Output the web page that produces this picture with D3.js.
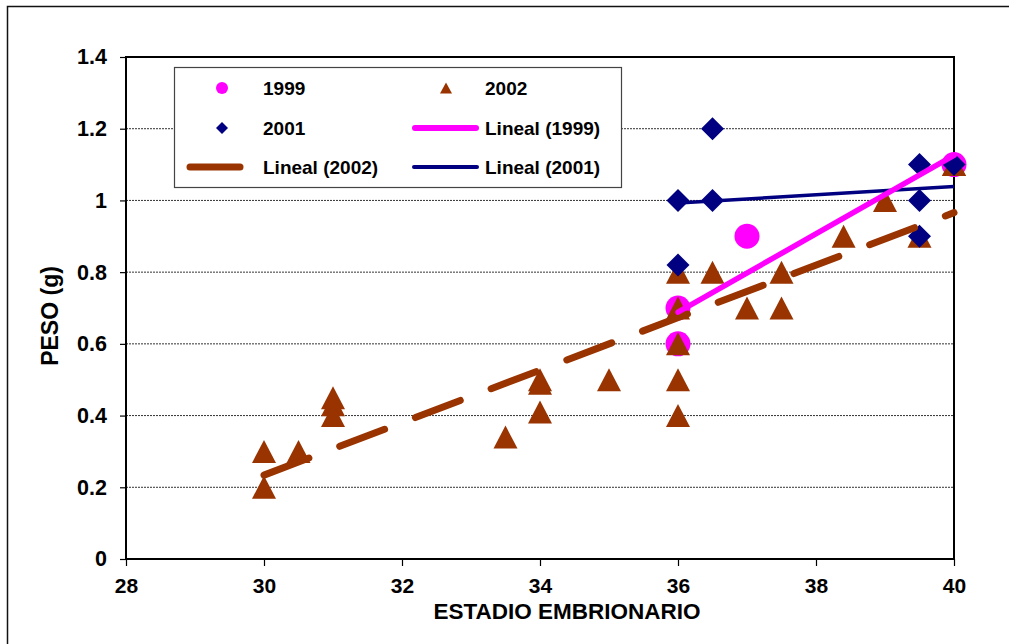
<!DOCTYPE html>
<html>
<head>
<meta charset="utf-8">
<script src="https://cdn.jsdelivr.net/npm/d3@7"></script>
<style>
  html, body { margin: 0; padding: 0; background: #fff; }
  svg { display: block; }
  text { font-family: "Liberation Sans", Arial, sans-serif; font-weight: bold; fill: #000; }
</style>
</head>
<body>
<script>
// Peso (g) por estadio embrionario, tres temporadas
const data1999 = [
  [36, 0.70], [36, 0.60], [37, 0.90], [40, 1.10]
];
const data2001 = [
  [36, 1.00], [36, 0.82], [36.5, 1.00], [36.5, 1.20],
  [39.5, 1.10], [39.5, 1.00], [39.5, 0.90], [40, 1.10]
];
const data2002 = [
  [30, 0.30], [30, 0.20], [30.5, 0.30],
  [31, 0.45], [31, 0.43], [31, 0.40],
  [33.5, 0.34], [34, 0.50], [34, 0.49], [34, 0.41], [35, 0.50],
  [36, 0.80], [36, 0.70], [36, 0.60], [36, 0.50], [36, 0.40],
  [36.5, 0.80], [37, 0.70], [37.5, 0.80], [37.5, 0.70],
  [38.4, 0.90], [39, 1.00], [39.5, 0.90], [40, 1.10], [40, 1.10]
];
const xTicks = [28, 30, 32, 34, 36, 38, 40];
const yTicks = [0, 0.2, 0.4, 0.6, 0.8, 1.0, 1.2, 1.4];
const yTickLabels = ["0", "0.2", "0.4", "0.6", "0.8", "1", "1.2", "1.4"];
const legendLabels = ["1999", "2002", "2001", "Lineal (1999)", "Lineal (2002)", "Lineal (2001)"];

const W = 1009, H = 644;
const M = { left: 126, right: 954, top: 57, bottom: 559 };
const C1999 = "#ff00ff", C2001 = "#000080", C2002 = "#993300";

const svg = d3.select("body").append("svg").attr("width", W).attr("height", H);

// outer chart frame (runs off the right and bottom edges)
svg.append("rect").attr("x", 7.5).attr("y", 6.5).attr("width", 1020).attr("height", 660)
  .attr("fill", "#fff").attr("stroke", "#111").attr("stroke-width", 1.5);

const x = d3.scaleLinear().domain([28, 40]).range([M.left, M.right]);
const y = d3.scaleLinear().domain([0, 1.4]).range([M.bottom, M.top]);

// dotted gridlines
svg.append("g").selectAll("line").data(yTicks.filter(v => v > 0 && v < 1.4)).join("line")
  .attr("x1", M.left).attr("x2", M.right)
  .attr("y1", d => y(d)).attr("y2", d => y(d))
  .attr("stroke", "#333").attr("stroke-width", 1).attr("stroke-dasharray", "2,1");

// axes
const yAxis = d3.axisLeft(y).tickValues(yTicks).tickSize(6).tickPadding(13)
  .tickFormat((d, i) => yTickLabels[i]);
const gy = svg.append("g").attr("transform", `translate(${M.left},0)`).call(yAxis);
gy.select(".domain").remove();
gy.selectAll(".tick line").attr("stroke", "#000").attr("stroke-width", 1.2);
gy.selectAll(".tick text").attr("font-size", 21.5).attr("font-family", null);

const xAxis = d3.axisBottom(x).tickValues(xTicks).tickSize(7).tickPadding(12);
const gx = svg.append("g").attr("transform", `translate(0,${M.bottom})`).call(xAxis);
gx.select(".domain").remove();
gx.selectAll(".tick line").attr("stroke", "#000").attr("stroke-width", 1.2);
gx.selectAll(".tick text").attr("font-size", 21).attr("font-family", null);

// plot border
svg.append("rect").attr("x", M.left).attr("y", M.top)
  .attr("width", M.right - M.left).attr("height", M.bottom - M.top)
  .attr("fill", "none").attr("stroke", "#000").attr("stroke-width", 2);

// axis titles
svg.append("text").attr("x", 567).attr("y", 618.5).attr("text-anchor", "middle")
  .attr("font-size", 22.5).text("ESTADIO EMBRIONARIO");
svg.append("text").attr("transform", "translate(58,316) rotate(-90)")
  .attr("text-anchor", "middle").attr("font-size", 23).text("PESO (g)");

// marker shapes
const triPath = (w, h) => `M0,${-h / 2}L${w / 2},${h / 2}L${-w / 2},${h / 2}Z`;
const diaPath = (s) => `M0,${-s / 2}L${s / 2},0L0,${s / 2}L${-s / 2},0Z`;

const marks = svg.append("g");
marks.selectAll("circle.p1999").data(data1999).join("circle")
  .attr("cx", d => x(d[0])).attr("cy", d => y(d[1])).attr("r", 12.5).attr("fill", C1999);
marks.selectAll("path.p2002").data(data2002).join("path")
  .attr("transform", d => `translate(${x(d[0])},${y(d[1])})`)
  .attr("d", triPath(24, 23)).attr("fill", C2002);
marks.selectAll("path.p2001").data(data2001).join("path")
  .attr("transform", d => `translate(${x(d[0])},${y(d[1])})`)
  .attr("d", diaPath(23)).attr("fill", C2001);

// least-squares linear trend over the series' x range
function trend(pts) {
  const mx = d3.mean(pts, d => d[0]), my = d3.mean(pts, d => d[1]);
  const sxy = d3.sum(pts, d => (d[0] - mx) * (d[1] - my));
  const sxx = d3.sum(pts, d => (d[0] - mx) ** 2);
  const b = sxy / sxx, a = my - b * mx;
  const [x0, x1] = d3.extent(pts, d => d[0]);
  return [[x0, a + b * x0], [x1, a + b * x1]];
}
const line = d3.line().x(d => x(d[0])).y(d => y(d[1]));

svg.append("path").attr("d", line(trend(data2002))).attr("fill", "none")
  .attr("stroke", C2002).attr("stroke-width", 7).attr("stroke-linecap", "round")
  .attr("stroke-dasharray", "48,33");
svg.append("path").attr("d", line(trend(data2001))).attr("fill", "none")
  .attr("stroke", C2001).attr("stroke-width", 3.5);
svg.append("path").attr("d", line(trend(data1999))).attr("fill", "none")
  .attr("stroke", C1999).attr("stroke-width", 5.5).attr("stroke-linecap", "round");

// legend
const lg = svg.append("g");
lg.append("rect").attr("x", 174.5).attr("y", 67.5).attr("width", 447).attr("height", 120)
  .attr("fill", "#fff").attr("stroke", "#444").attr("stroke-width", 1.2);
const rows = [88, 128, 167];
const col = [{ m: 222, t: 263 }, { m: 446, t: 485 }];
const entries = [
  { label: legendLabels[0], c: 0, r: 0, kind: "circle", color: C1999 },
  { label: legendLabels[1], c: 1, r: 0, kind: "tri", color: C2002 },
  { label: legendLabels[2], c: 0, r: 1, kind: "dia", color: C2001 },
  { label: legendLabels[3], c: 1, r: 1, kind: "line", color: C1999, w: 6, x0: 415, x1: 476 },
  { label: legendLabels[4], c: 0, r: 2, kind: "line", color: C2002, w: 7, x0: 190, x1: 240 },
  { label: legendLabels[5], c: 1, r: 2, kind: "line", color: C2001, w: 4, x0: 414, x1: 477 }
];
entries.forEach(e => {
  const cy = rows[e.r], cx = col[e.c].m;
  if (e.kind === "circle") {
    lg.append("circle").attr("cx", cx).attr("cy", cy).attr("r", 6).attr("fill", e.color);
  } else if (e.kind === "tri") {
    lg.append("path").attr("transform", `translate(${cx},${cy})`).attr("d", triPath(12, 11)).attr("fill", e.color);
  } else if (e.kind === "dia") {
    lg.append("path").attr("transform", `translate(${cx},${cy})`).attr("d", diaPath(12)).attr("fill", e.color);
  } else {
    lg.append("line").attr("x1", e.x0).attr("x2", e.x1).attr("y1", cy).attr("y2", cy)
      .attr("stroke", e.color).attr("stroke-width", e.w).attr("stroke-linecap", "round");
  }
  lg.append("text").attr("x", col[e.c].t).attr("y", cy + 7).attr("font-size", 19).text(e.label);
});
</script>
</body>
</html>
